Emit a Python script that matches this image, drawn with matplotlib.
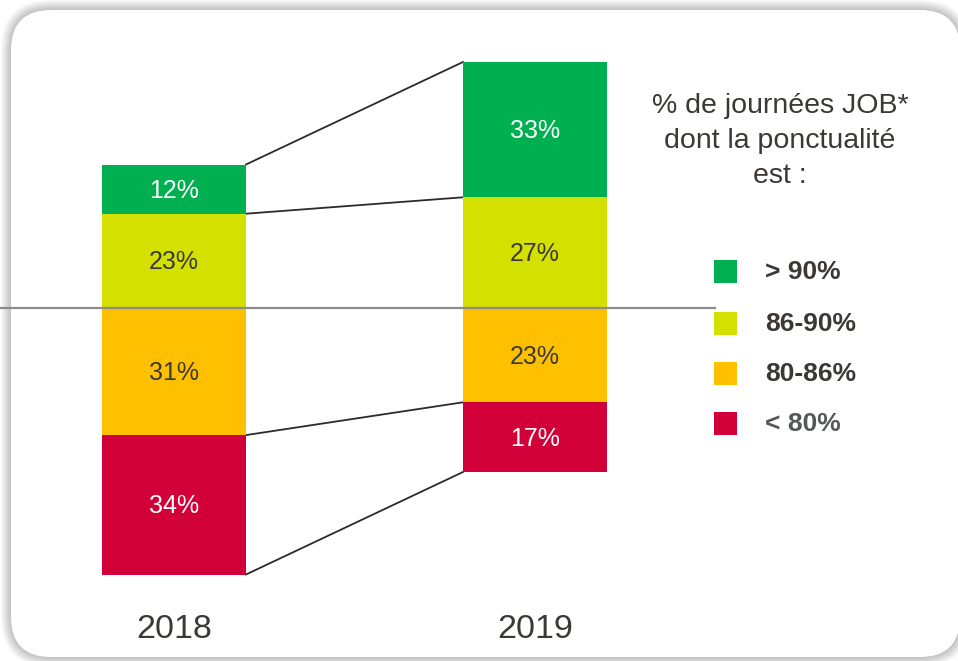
import matplotlib.pyplot as plt
from matplotlib.patches import FancyBboxPatch, Rectangle
import numpy as np

plt.rcParams['font.family'] = ['Liberation Sans', 'DejaVu Sans']

########## Données ##########
years = ['2018', '2019']
green = [12, 33]    # > 90%
yellow = [23, 27]   # 86-90%
orange = [31, 23]   # 80-86%
red = [34, 17]      # < 80%

legend_labels = ['> 90%', '86-90%', '80-86%', '< 80%']
colors = ['#00B050', '#D4E100', '#FFC000', '#D20038']
label_colors = [['white', 'white'], ['#3b3835', '#3b3835'], ['#3b3835', '#3b3835'], ['white', 'white']]
title = '% de journées JOB*\ndont la ponctualité\nest :'

W, H = 958, 661
fig = plt.figure(figsize=(W / 100, H / 100), dpi=100)

########## Fond : panneau arrondi avec ombre douce ##########
bg = fig.add_axes([0, 0, 1, 1])
bg.set_xlim(0, W)
bg.set_ylim(H, 0)
bg.axis('off')
px0, py0, pw, ph = 11, 10, 949, 647
for d in range(10, 0, -1):
    bg.add_patch(FancyBboxPatch((px0, py0), pw, ph,
                                boxstyle='round,pad=%d,rounding_size=%d' % (d, 40 + d),
                                fc='#000000', ec='none', alpha=0.025))
bg.add_patch(FancyBboxPatch((px0, py0), pw, ph, boxstyle='round,pad=0,rounding_size=40',
                            fc='white', ec='none'))

########## Barres ##########
ax = fig.add_axes([0, 0, 1, 1])
ax.patch.set_alpha(0)
ax.axis('off')
px_per_pct = 4.1
y0 = 308
ax.set_ylim(-(H - y0) / px_per_pct, y0 / px_per_pct)
step = 361.0
x_first = 174.0
ax.set_xlim(-x_first / step, (W - x_first) / step)

x = np.arange(len(years))
w = 144 / step

series = [green, yellow, orange, red]
yel = np.array(yellow)
gre = np.array(green)
ora = np.array(orange)
re = np.array(red)
bottoms = [yel, np.zeros(2), -ora, -(ora + re)]

for s, (vals, bot, c) in enumerate(zip(series, bottoms, colors)):
    ax.bar(x, vals, width=w, bottom=bot, color=c, edgecolor='none', zorder=2)
    for i in range(len(years)):
        ax.text(x[i], bot[i] + vals[i] / 2 - 0.4, '%d%%' % vals[i], ha='center', va='center',
                fontsize=18, color=label_colors[s][i], zorder=3)

# lignes de liaison
for yb in [gre + yel, yel, -ora, -(ora + re)]:
    ax.plot([x[0] + w / 2, x[1] - w / 2], [yb[0], yb[1]], color='#2b2b2b', lw=1.3, zorder=1)

# ligne de référence
ax.plot([ax.get_xlim()[0], (715 - x_first) / step], [0, 0], color='#8c8c8c', lw=1.6, zorder=4)

# années
for i, yr in enumerate(years):
    ax.text(x[i], -(630 - y0) / px_per_pct, yr, ha='center', va='center', fontsize=24.5,
            color='#3b3835')

########## Légende ##########
bg.text(780, 141, title, ha='center', va='center', fontsize=20.5, color='#3b3835',
        linespacing=1.45)
leg_y = [271, 323, 373, 423]
for lab, c, yy in zip(legend_labels, colors, leg_y):
    bg.add_patch(Rectangle((714, yy - 11.5), 23, 23, fc=c, ec='none'))
    bg.text(765, yy + 1, lab, ha='left', va='center', fontsize=19, fontweight='bold',
            color='#3b3835' if lab != '< 80%' else '#55575a')

fig.savefig('out.png', dpi=100)
